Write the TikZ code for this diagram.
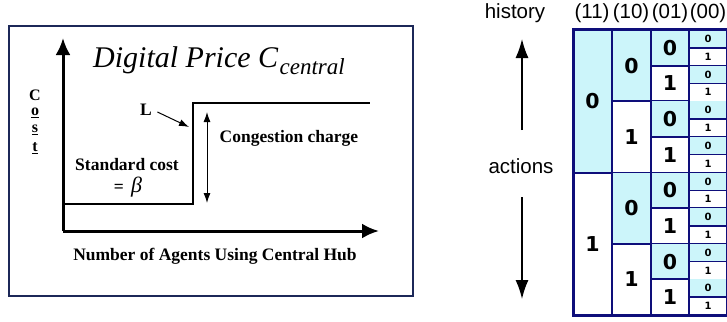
\documentclass[tikz,border=0pt]{standalone}
\usepackage{fontspec}
\setmainfont{Liberation Serif}
\setsansfont{Liberation Sans}
\newfontfamily\digitfont{DejaVu Sans}
\usetikzlibrary{arrows.meta}

\definecolor{framenavy}{RGB}{28,40,88}
\definecolor{gridnavy}{RGB}{14,14,122}
\definecolor{cellcyan}{RGB}{204,245,250}

\newcommand{\lblfont}{\fontsize{17.5pt}{20pt}\selectfont\bfseries}
\newcommand{\sansfont}{\sffamily\fontsize{20.5pt}{22pt}\selectfont}

\tikzset{
	axisline/.style={line width=3pt,-{Latex[length=17pt,width=15pt]}},
	pointer/.style={line width=1pt,-{Latex[length=10pt,width=7pt]}},
	bigdigit/.style={font=\digitfont\bfseries\fontsize{20.5pt}{21pt}\selectfont,inner sep=0pt},
	smalldigit/.style={font=\digitfont\bfseries\fontsize{10pt}{10pt}\selectfont,inner sep=0pt},
	gridline/.style={gridnavy,line width=2pt},
	thingrid/.style={gridnavy,line width=1.4pt},
	bigarrow/.style={line width=1.5pt,-{Latex[length=19pt,width=13pt]}}
}

\begin{document}
\begin{tikzpicture}[x=1pt,y=-1pt]
	\useasboundingbox (0,0) rectangle (727,321);

	%The framed price plot
	\draw[framenavy,line width=2.5pt] (9,26) rectangle (413,296);

	\coordinate (origin) at (63,231);
	\coordinate (ytip) at (63,38);
	\coordinate (xtip) at (379,231);
	\draw[axisline] (origin) -- (ytip);
	\draw[axisline] (origin) -- (xtip);

	\node[anchor=base west,inner sep=0pt,font=\itshape\fontsize{30pt}{32pt}\selectfont] (title) at (93,67) {Digital Price C};
	\node[anchor=base west,inner sep=0pt,font=\itshape\fontsize{23pt}{24pt}\selectfont] (titlesub) at ([xshift=1pt]title.base east) {\raisebox{-7pt}{central}};

	%the step of the cost
	\coordinate (s0) at (65,204);
	\coordinate (s1) at (193,204);
	\coordinate (s2) at (193,103);
	\coordinate (s3) at (370,103);
	\draw[line width=1.5pt] (s0) -- (s1) -- (s2) -- (s3);

	\node[font=\lblfont] (L) at (146,110) {L};
	\coordinate (Ltip) at (189,127);
	\draw[pointer] (L.east) ++(2,2) -- (Ltip);

	\coordinate (ctop) at (207,112);
	\coordinate (cbot) at (207,203);
	\draw[pointer,{Latex[length=10pt,width=7pt]}-{Latex[length=10pt,width=7pt]}] (ctop) -- (cbot);

	\node[font=\lblfont] (charge) at (289,138) {Congestion charge};
	\node[font=\lblfont] (std) at (127,165) {Standard cost};
	\node[font=\lblfont] (beta) at (128,187) {= \,{\mdseries\itshape\fontsize{22pt}{22pt}\selectfont β}};
	\node[font=\lblfont] (xlabel) at (215,256) {Number of Agents Using Central Hub};

	%vertical Cost
	\node[font=\bfseries\fontsize{16pt}{16pt}\selectfont] (cC) at (35,95) {C};
	\node[font=\bfseries\fontsize{16pt}{16pt}\selectfont] (co) at (35,113) {\underline{o}};
	\node[font=\bfseries\fontsize{16pt}{16pt}\selectfont] (cs) at (35,130) {\underline{s}};
	\node[font=\bfseries\fontsize{16pt}{16pt}\selectfont] (ct) at (35,148) {\underline{t}};

	%history / actions
	\node[font=\sansfont] (history) at (515,13) {history};
	\node[font=\sansfont] (actions) at (521,166) {actions};
	\coordinate (upbot) at (522,130);
	\coordinate (uptop) at (522,39);
	\coordinate (dntop) at (522,197);
	\coordinate (dnbot) at (522,299);
	\draw[bigarrow] (upbot) -- (uptop);
	\draw[bigarrow] (dntop) -- (dnbot);

	%The table of strategies
	\foreach \c/\xl/\xr/\n/\dstyle/\lstyle in {1/573/612/2/bigdigit/gridline,2/612/651/4/bigdigit/gridline,3/651/689/8/bigdigit/gridline,4/689/727/16/smalldigit/thingrid} {
		\pgfmathsetmacro\h{285/\n}
		\pgfmathtruncatemacro\last{\n-1}
		\foreach \k in {0,...,\last} {
			\pgfmathsetmacro\yt{30+\k*\h}
			\pgfmathsetmacro\yb{\yt+\h}
			\pgfmathtruncatemacro\bit{mod(\k,2)}
			\ifnum\bit=0 \fill[cellcyan] (\xl,\yt) rectangle (\xr,\yb); \fi
			\draw[\lstyle] (\xl,\yb) -- (\xr,\yb);
			\node[\dstyle] (cell\c-\k) at ({(\xl+\xr)/2},{(\yt+\yb)/2}) {\bit};
		}
		\draw[gridline] (\xl,30) -- (\xl,315);
	}
	\draw[gridnavy,line width=3pt] (573,30) rectangle (727,315);

	\foreach \c/\x/\t in {1/592/(11),2/631/(10),3/670/(01),4/708/(00)}
		\node[font=\sansfont] (head\c) at (\x,13) {\t};

\end{tikzpicture}
\end{document}
